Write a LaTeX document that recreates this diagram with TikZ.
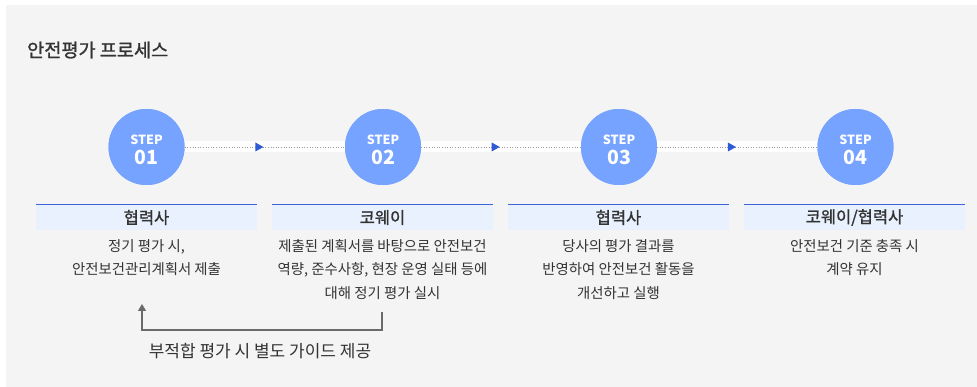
\documentclass[tikz,border=0pt]{standalone}
\usepackage{fontspec}
\setmainfont{Noto Sans CJK KR}
\newfontfamily\medfont[FakeBold=1.2]{Noto Sans CJK KR}
\usetikzlibrary{arrows.meta,decorations.markings}
\definecolor{bgc}{HTML}{F4F4F4}
\definecolor{circc}{HTML}{76A3FF}
\definecolor{hdrfill}{HTML}{E8F1FD}
\definecolor{hdrline}{HTML}{3A64D8}
\definecolor{arrc}{HTML}{2F5BD6}
\definecolor{dotc}{HTML}{9A9A9A}
\definecolor{txtc}{HTML}{333333}
\definecolor{fbc}{HTML}{6A6A6A}
\tikzset{
  stepcirc/.style={circle, fill=circc, minimum size=76pt, inner sep=0pt, text=white, align=center,
    font=\bfseries\fontsize{12.6}{20}\selectfont},
  steplbl/.style={inner sep=0pt, text=white, align=center,
    font=\bfseries\fontsize{12.6}{20}\selectfont},
  hdrbox/.style={fill=hdrfill, minimum width=221pt, minimum height=25pt, inner sep=0pt, text=txtc,
    font=\medfont\fontsize{16.5}{18}\selectfont},
  bodytxt/.style={anchor=north, align=center, inner sep=0pt, text=txtc,
    font=\fontsize{14.4}{23.5}\selectfont},
  band/.style={draw=white, line width=11pt},
  dotline/.style={draw=dotc, line width=0.6pt, dotted,
    postaction={decorate},
    decoration={markings, mark=at position 0.47 with {\fill[arrc] (3.5pt,0) -- (-4.5pt,4.5pt) -- (-4.5pt,-4.5pt) -- cycle;}}},
  fbline/.style={draw=fbc, line width=1.4pt, -{Triangle[length=7pt,width=8pt]}},
}
\newcommand{\stepnumtxt}[1]{STEP\\[0pt]{\fontsize{19.5}{20}\selectfont #1}}
\begin{document}
\begin{tikzpicture}[x=1pt,y=-1pt]
\useasboundingbox (0,0) rectangle (977,387);
\fill[bgc] (6,5) rectangle (977,387);
\node[anchor=west, inner sep=0pt, text=txtc, font=\medfont\fontsize{18.6}{20}\selectfont] (title) at (27,50) {안전평가 프로세스};

\node[stepcirc] (s1) at (146.5,147) {};
\node[stepcirc] (s2) at (383,147) {};
\node[stepcirc] (s3) at (619,147) {};
\node[stepcirc] (s4) at (855.5,147) {};

\foreach \a/\b in {s1/s2,s2/s3,s3/s4}{
  \draw[band] (\a.east) -- (\b.west);
  \draw[dotline] (\a.east) -- (\b.west);
}
\foreach \n in {s1,s2,s3,s4} \node[stepcirc] at (\n) {};
\node[steplbl] (t1) at ([yshift=-2.5pt]s1.center) {\stepnumtxt{01}};
\node[steplbl] (t2) at ([yshift=-2.5pt]s2.center) {\stepnumtxt{02}};
\node[steplbl] (t3) at ([yshift=-2.5pt]s3.center) {\stepnumtxt{03}};
\node[steplbl] (t4) at ([yshift=-2.5pt]s4.center) {\stepnumtxt{04}};

\node[hdrbox] (h1) at (146.5,217.5) {협력사};
\node[hdrbox] (h2) at (382.5,217.5) {코웨이};
\node[hdrbox] (h3) at (618.5,217.5) {협력사};
\node[hdrbox] (h4) at (854.5,217.5) {코웨이/협력사};
\foreach \h in {h1,h2,h3,h4} \draw[hdrline, line width=1.2pt] (\h.north west) -- (\h.north east);

\node[bodytxt] (b1) at (146.5,239) {정기 평가 시,\\안전보건관리계획서 제출};
\node[bodytxt] (b2) at (382.5,239) {제출된 계획서를 바탕으로 안전보건\\역량, 준수사항, 현장 운영 실태 등에\\대해 정기 평가 실시};
\node[bodytxt] (b3) at (618.5,239) {당사의 평가 결과를\\반영하여 안전보건 활동을\\개선하고 실행};
\node[bodytxt] (b4) at (854.5,239) {안전보건 기준 충족 시\\계약 유지};

\coordinate (f1) at (382,312);
\coordinate (f2) at (142,304);
\draw[fbline] (f1) -- ++(0,18) -| (f2);
\node[text=txtc, font=\fontsize{17}{18}\selectfont] (lbl) at (260,351) {부적합 평가 시 별도 가이드 제공};
\end{tikzpicture}
\end{document}
